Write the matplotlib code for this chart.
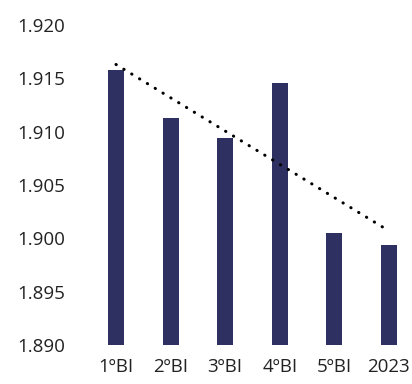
#!/usr/bin/env python3

import numpy as np

import matplotlib
matplotlib.use('Agg')
import matplotlib.pyplot as plt
from matplotlib import ticker


labels = ['1ºBI', '2ºBI', '3ºBI', '4ºBI', '5ºBI', '2023']
values = [1.9158, 1.9113, 1.9094, 1.9146, 1.9005, 1.8994]
y_ticks = [1.890, 1.895, 1.900, 1.905, 1.910, 1.915, 1.920]

bar_color = '#2e3062'


def main():
    plt.rcParams['font.family'] = ['Open Sans', 'DejaVu Sans']

    fig = plt.figure(figsize=(4.12, 3.84), dpi=100)
    ax = fig.add_axes([92 / 412, 39 / 384, 316 / 412, 320 / 384])

    x = np.arange(len(values))
    ax.bar(x, np.array(values) - 1.890, bottom=1.890, width=0.29,
           color=bar_color, zorder=2)

    # linear trend line
    coef = np.polyfit(x, values, 1)
    ax.plot(x, np.polyval(coef, x), color='black', linewidth=2.2,
            linestyle=(0, (0.1, 2.9)), dash_capstyle='round', zorder=3)

    ax.set_xlim(-0.44, 5.35)
    ax.set_ylim(1.890, 1.920)
    ax.set_yticks(y_ticks)
    ax.yaxis.set_major_formatter(ticker.FormatStrFormatter('%.3f'))
    ax.set_xticks(x)
    ax.set_xticklabels(labels)

    for side in ['top', 'right', 'left', 'bottom']:
        ax.spines[side].set_visible(False)
    ax.tick_params(axis='both', length=0, labelsize=13.5, colors='#222222')
    ax.tick_params(axis='y', pad=19.5)
    ax.tick_params(axis='x', pad=9)

    fig.savefig('out.png', dpi=100, facecolor='white')


if __name__ == '__main__':
    main()
